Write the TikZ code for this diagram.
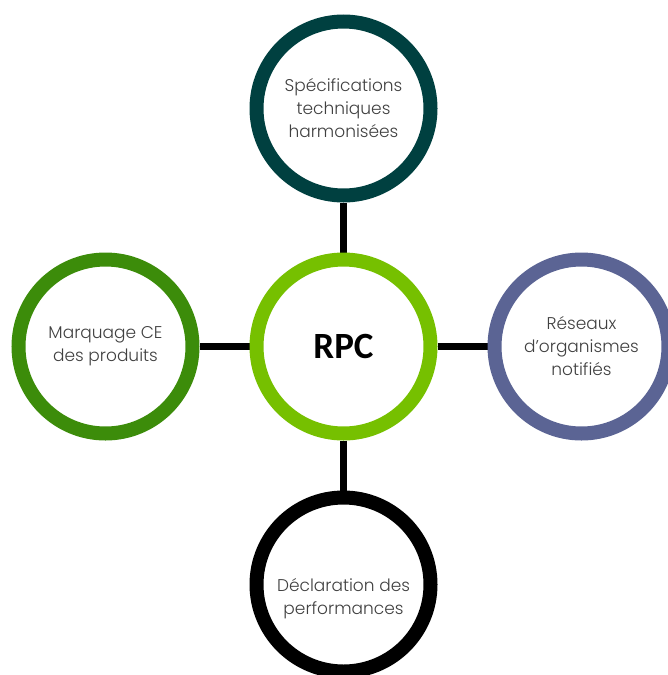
\documentclass[tikz,border=0pt]{standalone}
\usepackage{fontspec}
\setmainfont{Poppins Light}
\newfontfamily\rpcfont{Carlito}
\usetikzlibrary{positioning, backgrounds}

\definecolor{rpclime}{HTML}{76C000}
\definecolor{specteal}{HTML}{004040}
\definecolor{marqgreen}{HTML}{3C8C0A}
\definecolor{resoslate}{HTML}{5B6494}
\definecolor{labelgrey}{HTML}{404040}

\begin{document}
\begin{tikzpicture}[
    x=1pt, y=-1pt,
    node distance=238pt,
    on grid,
    ring/.style={circle, draw, line width=14pt, minimum size=174pt,
        inner sep=0pt, align=center, text=labelgrey,
        font=\fontsize{17}{23}\selectfont},
    link/.style={draw=black, line width=7pt},
]
    \useasboundingbox (0,0) rectangle (667,675);

    \node[ring, draw=rpclime, text=black,
          font=\rpcfont\bfseries\fontsize{37}{40}\selectfont]
                                         (rpc)  at (343.5,346.5) {RPC};
    \node[ring, draw=specteal,  above=of rpc] (spec) {Spécifications\\techniques\\harmonisées};
    \node[ring, draw=marqgreen, left =of rpc] (marq) {Marquage CE\\des produits};
    \node[ring, draw=resoslate, right=of rpc] (reso) {Réseaux\\d’organismes\\notifiés};
    \node[ring, draw=black,     below=of rpc] (decl)
        {\raisebox{-18pt}[0pt][0pt]{\begin{tabular}{@{}c@{}}Déclaration des\\performances\end{tabular}}};

    \begin{scope}[on background layer]
        \path
            (rpc) edge [link] (spec)
            (rpc) edge [link] (marq)
            (rpc) edge [link] (reso)
            (rpc) edge [link] (decl)
        ;
    \end{scope}
\end{tikzpicture}
\end{document}
